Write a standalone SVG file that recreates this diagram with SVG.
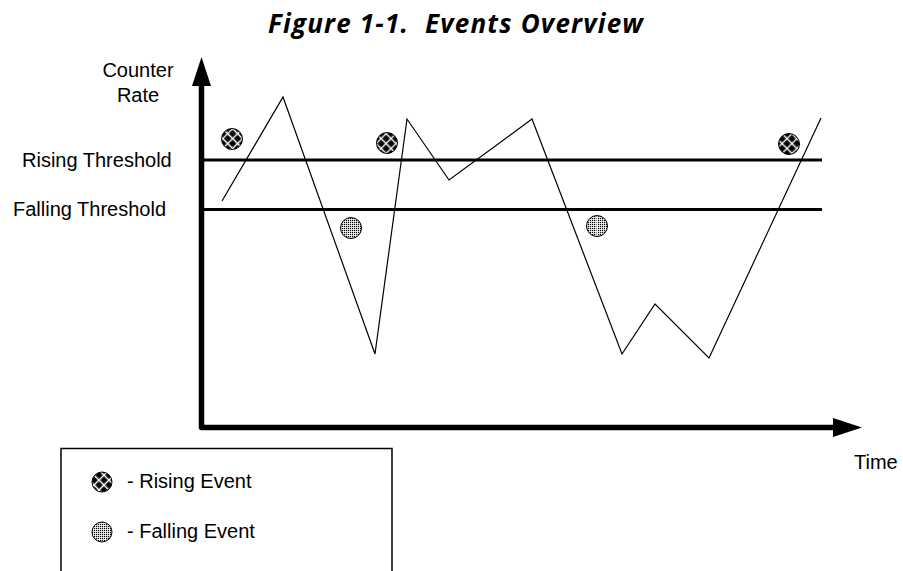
<svg xmlns="http://www.w3.org/2000/svg" width="903" height="571" viewBox="0 0 903 571">
<style>
  .lbl { font-family: "Liberation Sans", Arial, sans-serif; font-size: 20px; fill: #000; }
  .title { font-family: "Open Sans", "DejaVu Sans", sans-serif; font-size: 26px; font-weight: bold; font-style: italic; letter-spacing: 1.2px; fill: #000; }
  .axis { fill: none; stroke: #000; stroke-width: 5.5; stroke-linejoin: round; }
  .thr { stroke: #000; stroke-width: 3; }
  .sig { fill: none; stroke: #000; stroke-width: 1.2; stroke-linejoin: miter; }
  .rise { fill: url(#hatch); stroke: #000; stroke-width: 1; }
  .fall { fill: url(#dots); stroke: #000; stroke-width: 1; }
</style>
<defs>
  <pattern id="hatch" width="7" height="7" patternUnits="userSpaceOnUse" patternTransform="rotate(45)">
    <rect width="7" height="7" fill="#000"/>
    <path d="M0 3.5H7M3.5 0V7" stroke="#fff" stroke-width="1.4"/>
  </pattern>
  <pattern id="dots" width="2" height="2" patternUnits="userSpaceOnUse">
    <rect width="2" height="2" fill="#fff"/>
    <rect width="1.2" height="1.2" fill="#000"/>
  </pattern>
</defs>
<rect width="903" height="571" fill="#fff"/>

<g id="title">
  <text class="title" x="456" y="33" text-anchor="middle" xml:space="preserve">Figure 1-1.  Events Overview</text>
</g>

<g id="axes">
  <path class="axis" d="M201.5 84 V427.5 H835"/>
  <polygon points="201.5,57 192,86 211,86" fill="#000"/>
  <polygon points="833,418 862,427.5 833,437" fill="#000"/>
  <text class="lbl" x="138" y="77" text-anchor="middle">Counter</text>
  <text class="lbl" x="138" y="102" text-anchor="middle">Rate</text>
  <text class="lbl" x="854" y="469">Time</text>
</g>

<g id="thresholds">
  <line class="thr" x1="203" y1="160" x2="822" y2="160"/>
  <line class="thr" x1="203" y1="209.5" x2="822" y2="209.5"/>
  <text class="lbl" x="22" y="167">Rising Threshold</text>
  <text class="lbl" x="13" y="216">Falling Threshold</text>
</g>

<g id="signal">
  <polyline class="sig" points="222,201 283,97 375,354 407,119 449,180 532,119 622,354 655,304 709,358 821,118"/>
</g>

<g id="events">
  <circle id="rise1" class="rise" cx="232" cy="139" r="10.5"/>
  <circle id="rise2" class="rise" cx="387" cy="143" r="10.5"/>
  <circle id="rise3" class="rise" cx="789" cy="144" r="10.5"/>
  <circle id="fall1" class="fall" cx="351" cy="228" r="10.5"/>
  <g id="fall2">
    <circle class="fall" cx="597" cy="226" r="10.5"/>
    <line x1="597" y1="216" x2="597" y2="236" stroke="#fff" stroke-width="1"/>
  </g>
</g>

<g id="legend">
  <path d="M61 572 V448.5 H392 V572" fill="none" stroke="#000" stroke-width="1.5"/>
  <circle class="rise" cx="102" cy="482" r="10"/>
  <text class="lbl" x="127" y="488">- Rising Event</text>
  <circle class="fall" cx="102" cy="532" r="10"/>
  <text class="lbl" x="127" y="538">- Falling Event</text>
</g>
</svg>
